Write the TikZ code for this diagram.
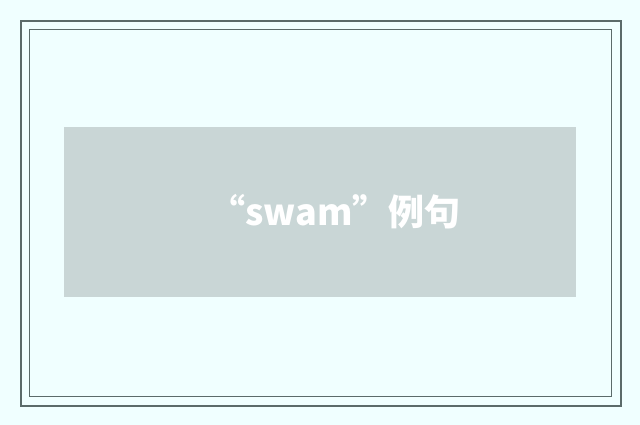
\documentclass[tikz,border=0pt]{standalone}
\usepackage{fontspec}
\usepackage{tikz}
\usetikzlibrary{positioning}
\newfontfamily\cjk{Noto Sans CJK SC}
\definecolor{bgcyan}{HTML}{F0FFFF}
\definecolor{framegray}{HTML}{5B6B6A}
\definecolor{bannergray}{HTML}{C9D6D6}

\begin{document}
\begin{tikzpicture}[
		x=1pt, y=-1pt,
		outerframe/.style={draw=framegray, line width=2pt},
		innerframe/.style={draw=framegray, line width=1pt},
		banner/.style={fill=bannergray, draw=none},
		title/.style={text=white, font=\cjk\bfseries\fontsize{36}{40}\selectfont, inner sep=0pt, anchor=base}
		]

		% --- fond et cadres ---
		\fill[bgcyan] (0,0) rectangle (640,425);
		\useasboundingbox (0,0) rectangle (640,425);
		\draw[outerframe] (21,21) rectangle (621,406);
		\draw[innerframe] (29.5,29.5) rectangle (611.5,396.5);

		% --- bandeau central ---
		\fill[banner] (64,127) rectangle (576,297);
		\node[title] (T) at (335,225) {“swam”例句};

	\end{tikzpicture}
\end{document}
